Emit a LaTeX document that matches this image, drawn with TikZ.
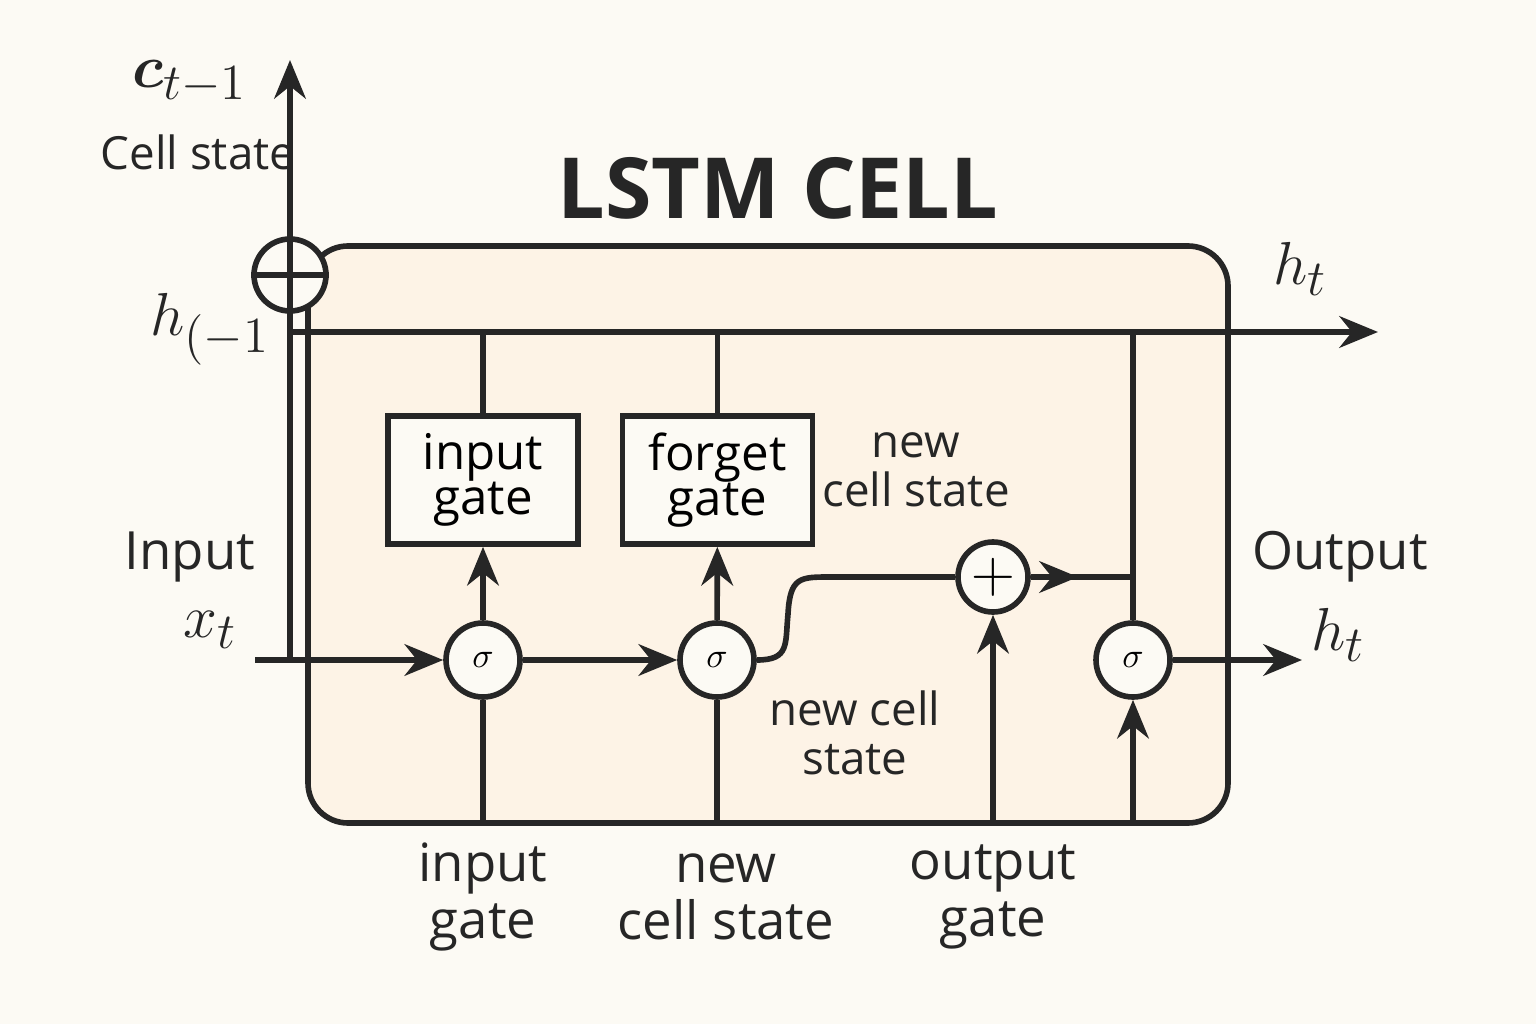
\documentclass[tikz,border=0pt]{standalone}
\usepackage{fontspec}
\setmainfont{Open Sans}
\usepackage{amsmath}
\usetikzlibrary{calc, positioning, arrows.meta}
\definecolor{paper}{HTML}{FCFAF4}
\definecolor{cellfill}{HTML}{FDF3E6}
\definecolor{ink}{HTML}{262626}
\tikzset{
	wire/.style = {ink, line width=1.6pt},
	flow/.style = {wire, -{Stealth[length=11pt, width=9pt]}},
	op/.style = {circle, draw=ink, line width=1.6pt, fill=paper, minimum size=0.74cm, inner sep=0pt},
	gate/.style = {draw=ink, line width=1.6pt, fill=paper, minimum width=1.9cm, minimum height=1.28cm, align=center, font=\fontsize{14}{15}\selectfont},
	lbl/.style = {ink, align=center, font=\fontsize{13}{14}\selectfont},
	sym/.style = {ink, font=\fontsize{19}{20}\selectfont}
}
\begin{document}
\begin{tikzpicture}
		\fill [paper] (0,0) rectangle (15.36,10.24);
		\useasboundingbox (0,0) rectangle (15.36,10.24);
		
		\draw [wire, fill=cellfill, rounded corners=0.4cm] (3.08,2.01) rectangle (12.28,7.78);
		\node [ink, font=\fontsize{24}{26}\selectfont\bfseries] (title) at (7.78,8.36) {LSTM CELL};
		
		% cell state column and hidden line
		\coordinate (in left) at (2.55,3.64);
		\coordinate (col bottom) at (2.9,3.64);
		\coordinate (col top) at (2.9,9.64);
		\coordinate (h left) at (2.9,6.92);
		\coordinate (h right) at (13.78,6.92);
		\draw [flow] (col bottom) -- (col top);
		\draw [flow] (h left) -- (h right);
		\node [op, minimum size=0.72cm] (add top) at (2.9,7.49) {};
		\draw [wire] (add top.north) -- (add top.south) (add top.west) -- (add top.east);
		
		% gates and ops
		\node [gate] (input gate) at (4.83,5.44) {input\\[-2pt]gate};
		\node [gate] (forget gate) at (7.175,5.44) {forget\\[-2pt]gate};
		\node [op] (sig in) at (4.83,3.64) {\normalfont$\sigma$};
		\node [op] (sig forget) at (7.17,3.64) {\normalfont$\sigma$};
		\node [op] (sig out) at (11.33,3.64) {\normalfont$\sigma$};
		\node [op, minimum size=0.7cm, font=\fontsize{16}{16}\selectfont] (plus) at (9.93,4.47) {$+$};
		
		\coordinate (bot in) at (4.83,2.01);
		\coordinate (bot forget) at (7.17,2.01);
		\coordinate (bot plus) at (9.93,2.01);
		\coordinate (bot out) at (11.33,2.01);
		\coordinate (top out) at (11.33,6.92);
		\coordinate (join) at (11.33,4.47);
		\coordinate (out end) at (13.02,3.64);
		
		\draw [wire] (input gate.north) -- (input gate.north |- h left);
		\draw [wire] (forget gate.north) -- (forget gate.north |- h left);
		\draw [flow] (in left) -- (sig in);
		\draw [flow] (sig in) -- (sig forget);
		\draw [flow] (sig in) -- (input gate);
		\draw [flow] (sig forget) -- (forget gate);
		\draw [wire] (sig forget.east) .. controls (7.9,3.64) and (7.85,3.8) .. (7.88,4.1) .. controls (7.9,4.47) and (8.0,4.47) .. (8.3,4.47) -- (plus.west);
		\draw [flow] (plus.east) -- (10.78,4.47);
		\draw [wire] (10.7,4.47) -- (join);
		\draw [wire] (top out) -- (sig out);
		\draw [flow] (sig out) -- (out end);
		\draw [wire] (bot in) -- (sig in);
		\draw [wire] (bot forget) -- (sig forget);
		\draw [flow] (bot plus) -- (plus);
		\draw [flow] (bot out) -- (sig out);
		
		% labels
		\node [sym] (c prev) at (1.9,9.42) {$\boldsymbol{c}_{t-1}$};
		\node [lbl] (cell state) at (1.98,8.72) {Cell state};
		\node [sym] (h prev) at (2.1,6.95) {$h_{(-1}$};
		\node [sym] (h top) at (13.0,7.55) {$h_t$};
		\node [lbl, font=\fontsize{15}{16}\selectfont] (input lbl) at (1.9,4.67) {Input};
		\node [sym] (x in) at (2.1,3.94) {$x_t$};
		\node [lbl, font=\fontsize{15}{16}\selectfont] (output lbl) at (13.4,4.67) {Output};
		\node [sym] (h out) at (13.38,3.89) {$h_t$};
		\node [lbl] (new top) at (9.16,5.54) {new\\cell state};
		\node [lbl] (new mid) at (8.55,2.91) {new cell\\state};
		\node [lbl, font=\fontsize{15}{16}\selectfont] (lbl in) at (4.83,1.27) {input\\gate};
		\node [lbl, font=\fontsize{15}{16}\selectfont] (lbl new) at (7.26,1.27) {new\\cell state};
		\node [lbl, font=\fontsize{15}{16}\selectfont] (lbl out) at (9.93,1.27) {output\\gate};
	\end{tikzpicture}
\end{document}
